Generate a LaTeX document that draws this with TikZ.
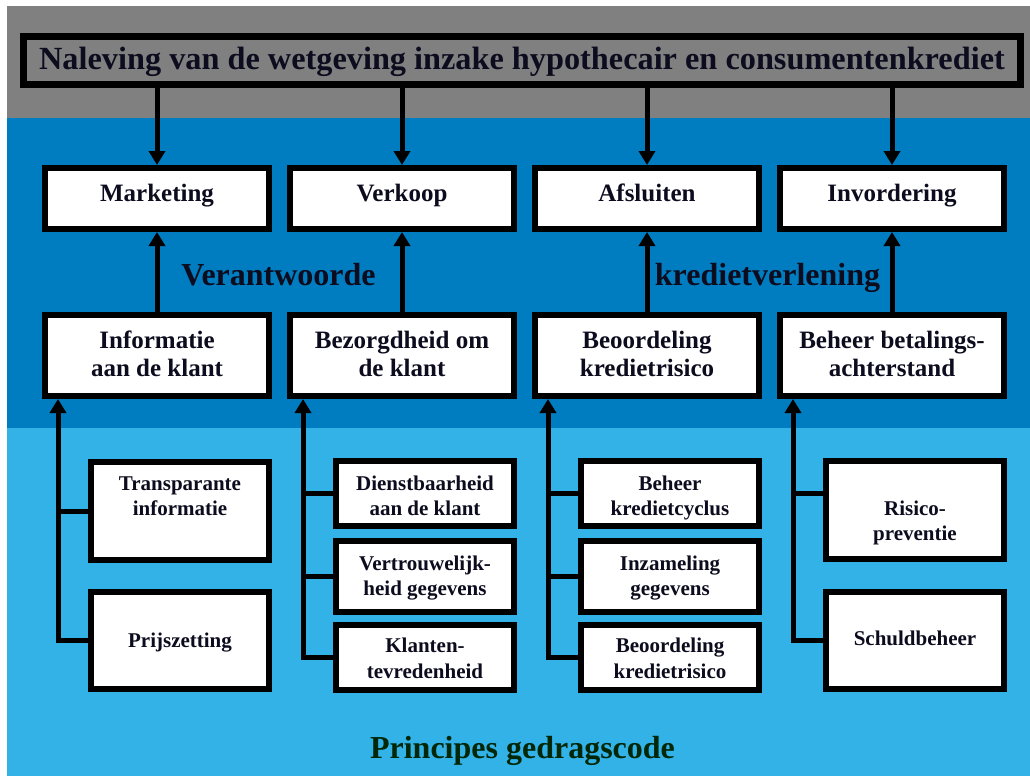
\documentclass[tikz,border=0pt]{standalone}
\usepackage{fontspec}
\setmainfont{Liberation Serif}
\usetikzlibrary{arrows.meta}
\definecolor{bggray}{RGB}{128,128,128}
\definecolor{dblue}{RGB}{0,125,192}
\definecolor{lblue}{RGB}{51,178,232}
\definecolor{txtc}{RGB}{12,12,30}
\definecolor{grn}{RGB}{0,40,8}
\newcommand\tline[4]{\node[txt,font=#1] (#2) at #3 {#4};}
\newcommand\ftitle{\bfseries\fontsize{32.3}{36}\selectfont}
\newcommand\frow{\bfseries\fontsize{25}{28}\selectfont}
\newcommand\fbot{\bfseries\fontsize{21}{25}\selectfont}
\newcommand\flab{\bfseries\fontsize{32}{36}\selectfont}
\tikzset{
  bx/.style={draw=black, fill=white, line width=6pt, inner sep=0pt},
  conn/.style={line width=5pt, draw=black},
  arr/.style={conn, -{Triangle[width=16pt,length=14pt]}},
  txt/.style={text=txtc, inner sep=0pt, anchor=base},
}
\begin{document}
\begin{tikzpicture}[x=1pt,y=-1pt]
\useasboundingbox (0,0) rectangle (1030,776);
% backgrounds
\fill[white] (0,0) rectangle (1030,776);
\fill[bggray] (7,6) rectangle (1030,118);
\fill[dblue] (7,118) rectangle (1030,428);
\fill[lblue] (7,428) rectangle (1030,776);

% title
\node[bx, fill=bggray, line width=7pt, minimum width=997pt, minimum height=48pt] (title) at (522,60.5) {};
\tline{\ftitle}{tt}{(522,70)}{Naleving van de wetgeving inzake hypothecair en consumentenkrediet}

% top row
\node[bx, minimum width=224pt, minimum height=61pt] (mk) at (157,198.5) {};
\node[bx, minimum width=224pt, minimum height=61pt] (vk) at (402,198.5) {};
\node[bx, minimum width=224pt, minimum height=61pt] (af) at (647,198.5) {};
\node[bx, minimum width=224pt, minimum height=61pt] (inv) at (892,198.5) {};
\tline{\frow}{tmk}{(157,201)}{Marketing}
\tline{\frow}{tvk}{(402,201)}{Verkoop}
\tline{\frow}{taf}{(647,201)}{Afsluiten}
\tline{\frow}{tinv}{(892,201)}{Invordering}

% second row
\node[bx, minimum width=224pt, minimum height=81pt] (info) at (157,355.5) {};
\node[bx, minimum width=224pt, minimum height=81pt] (bez) at (402,355.5) {};
\node[bx, minimum width=224pt, minimum height=81pt] (beo) at (647,355.5) {};
\node[bx, minimum width=224pt, minimum height=81pt] (bbh) at (892,355.5) {};
\tline{\frow}{tinfa}{(157,348)}{Informatie}
\tline{\frow}{tinfb}{(157,376)}{aan de klant}
\tline{\frow}{tbeza}{(402,348)}{Bezorgdheid om}
\tline{\frow}{tbezb}{(402,376)}{de klant}
\tline{\frow}{tbeoa}{(647,348)}{Beoordeling}
\tline{\frow}{tbeob}{(647,376)}{kredietrisico}
\tline{\frow}{tbbha}{(892,348)}{Beheer betalings-}
\tline{\frow}{tbbhb}{(892,376)}{achterstand}

% middle labels
\node[txt, font=\flab] (lv) at (278.5,285) {Verantwoorde};
\node[txt, font=\flab] (lk) at (767.5,285) {kredietverlening};

% bottom boxes column 1
\node[bx, minimum width=178pt, minimum height=98pt] (tr) at (180,511) {};
\node[bx, minimum width=178pt, minimum height=97pt] (pz) at (180,640.5) {};
\tline{\fbot}{ttra}{(180,490)}{Transparante}
\tline{\fbot}{ttrb}{(180,515)}{informatie}
\tline{\fbot}{tpz}{(180,647)}{Prijszetting}

% column 2
\node[bx, minimum width=178pt, minimum height=65pt] (db) at (425,493.5) {};
\node[bx, minimum width=178pt, minimum height=71pt] (vt) at (425,576.5) {};
\node[bx, minimum width=178pt, minimum height=65pt] (kt) at (425,657.5) {};
\tline{\fbot}{tdba}{(425,490)}{Dienstbaarheid}
\tline{\fbot}{tdbb}{(425,515)}{aan de klant}
\tline{\fbot}{tvta}{(425,570)}{Vertrouwelijk-}
\tline{\fbot}{tvtb}{(425,595)}{heid gegevens}
\tline{\fbot}{tkta}{(425,652)}{Klanten-}
\tline{\fbot}{tktb}{(425,678)}{tevredenheid}

% column 3
\node[bx, minimum width=178pt, minimum height=65pt] (bk) at (670,493.5) {};
\node[bx, minimum width=178pt, minimum height=71pt] (iz) at (670,576.5) {};
\node[bx, minimum width=178pt, minimum height=65pt] (bkr) at (670,657.5) {};
\tline{\fbot}{tbka}{(670,490)}{Beheer}
\tline{\fbot}{tbkb}{(670,515)}{kredietcyclus}
\tline{\fbot}{tiza}{(670,570)}{Inzameling}
\tline{\fbot}{tizb}{(670,595)}{gegevens}
\tline{\fbot}{tbkra}{(670,652)}{Beoordeling}
\tline{\fbot}{tbkrb}{(670,678)}{kredietrisico}

% column 4
\node[bx, minimum width=178pt, minimum height=98pt] (rp) at (915,510) {};
\node[bx, minimum width=178pt, minimum height=97pt] (sb) at (915,640.5) {};
\tline{\fbot}{trpa}{(915,515)}{Risico-}
\tline{\fbot}{trpb}{(915,540)}{preventie}
\tline{\fbot}{tsb}{(915,645)}{Schuldbeheer}

% bottom label
\node[txt, font=\flab, text=grn] (lp) at (522.5,758) {Principes gedragscode};

% connectors: title to top row
\foreach \n in {mk,vk,af,inv}{
  \draw[arr] (title.south -| \n.north) -- (\n.north);
}
% second row to top row
\draw[arr] (info.north) -- (mk.south);
\draw[arr] (bez.north) -- (vk.south);
\draw[arr] (beo.north) -- (af.south);
\draw[arr] (bbh.north) -- (inv.south);

% brackets
\coordinate (c1) at ([xshift=-99pt]info.south);
\coordinate (c2) at ([xshift=-99pt]bez.south);
\coordinate (c3) at ([xshift=-99pt]beo.south);
\coordinate (c4) at ([xshift=-99pt]bbh.south);

\draw[arr] (pz.west) -| (c1);
\draw[conn] (tr.west) -- (tr.west -| c1);

\draw[arr] (kt.west) -| (c2);
\draw[conn] (vt.west) -- (vt.west -| c2);
\draw[conn] (db.west) -- (db.west -| c2);

\draw[arr] (bkr.west) -| (c3);
\draw[conn] (iz.west) -- (iz.west -| c3);
\draw[conn] (bk.west) -- (bk.west -| c3);

\draw[arr] (sb.west) -| (c4);
\draw[conn] ([yshift=17pt]rp.west) -- ([yshift=17pt]rp.west -| c4);
\end{tikzpicture}
\end{document}
